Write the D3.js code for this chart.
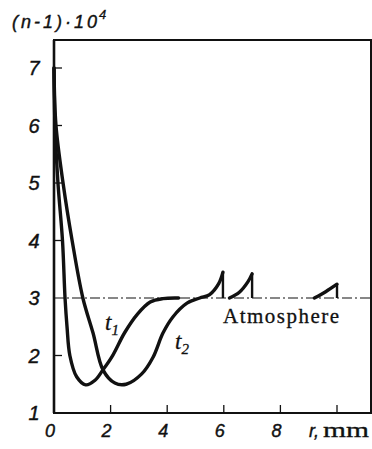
<!DOCTYPE html>
<html><head><meta charset="utf-8">
<script src="https://cdn.jsdelivr.net/npm/d3@7"></script>
<style>body{margin:0;background:#fff}svg{display:block}</style>
</head><body><div id="c"></div>
<script>
// ---- data ----
const yTicks = [1, 2, 3, 4, 5, 6, 7];
const xTicks = [0, 2, 4, 6, 8];
const xMinorTicks = [2, 4, 6, 8, 10];
const atmosphere = 3;
// curve t1 (r in mm, (n-1)*10^4)
const t1R = [0, 0.035, 0.14, 0.3, 0.39, 0.46, 0.56, 0.8, 1.12, 1.45, 1.73, 2.05, 2.5, 2.95, 3.4, 3.85, 4.4];
const t1V = [7.0, 6.0, 5.0, 4.0, 3.0, 2.5, 2.0, 1.63, 1.49, 1.57, 1.75, 1.98, 2.4, 2.72, 2.93, 2.99, 3.0];
// curve t2 main branch up to first peak
const t2R = [0, 0.07, 0.32, 0.64, 1.02, 1.38, 1.73, 2.15, 2.55, 3.1, 3.5, 3.85, 4.2, 4.7, 5.15, 5.5, 5.82, 5.97];
const t2V = [7.0, 6.0, 5.0, 4.0, 3.0, 2.39, 1.75, 1.52, 1.5, 1.68, 1.97, 2.39, 2.67, 2.91, 3.0, 3.06, 3.25, 3.45];
// later sawtooth pulses of t2
const saw2R = [6.2, 6.55, 6.85, 7.0];
const saw2V = [3.0, 3.1, 3.28, 3.42];
const saw3R = [9.2, 9.6, 10.0];
const saw3V = [3.0, 3.11, 3.24];
// vertical drops back to the atmosphere level
const dropR = [5.97, 7.0, 10.0];
const dropTop = [3.45, 3.42, 3.24];

// ---- chart ----
const W = 372, H = 449;
const svg = d3.select('#c').append('svg').attr('width', W).attr('height', H);
const x = d3.scaleLinear().domain([0, 10]).range([54, 337]);
const y = d3.scaleLinear().domain([1, 7]).range([413, 68]);
const x0 = 54, x1 = 371, yTop = 40, yBot = 413;

const ink = '#111';
// frame
svg.append('path').attr('d', `M${x0},${yBot}V${yTop}H${x1}V${yBot}Z`)
  .attr('fill', 'none').attr('stroke', ink).attr('stroke-width', 2);
svg.append('line').attr('x1', x0).attr('x2', x0).attr('y1', yTop).attr('y2', yBot)
  .attr('stroke', ink).attr('stroke-width', 2.6);

// left ticks (inward)
svg.selectAll('.yt').data(yTicks.filter(d => d !== 1 && d !== 3)).enter().append('line')
  .attr('x1', x0).attr('x2', x0 + 8).attr('y1', d => y(d)).attr('y2', d => y(d))
  .attr('stroke', ink).attr('stroke-width', 1.3);
// bottom ticks (inward)
svg.selectAll('.xt').data(xMinorTicks).enter().append('line')
  .attr('x1', d => x(d)).attr('x2', d => x(d)).attr('y1', yBot).attr('y2', yBot - 8)
  .attr('stroke', ink).attr('stroke-width', 1.3);

const sans = 'Liberation Sans, Arial, sans-serif';
const serif = 'Liberation Serif, Times New Roman, serif';
// y labels
svg.selectAll('.yl').data(yTicks).enter().append('text')
  .attr('x', 34).attr('y', d => y(d)).attr('dy', '0.36em')
  .attr('text-anchor', 'middle')
  .attr('font-family', sans).attr('font-style', 'italic')
  .attr('font-size', 20).attr('fill', ink).attr('stroke', ink).attr('stroke-width', 0.4).text(d => d);
// x labels
svg.selectAll('.xl').data(xTicks).enter().append('text')
  .attr('x', d => x(d) - 4).attr('y', 437)
  .attr('text-anchor', 'middle')
  .attr('font-family', sans).attr('font-style', 'italic')
  .attr('font-size', 18).attr('fill', ink).attr('stroke', ink).attr('stroke-width', 0.4).text(d => d);
// axis title x
svg.append('text').attr('x', 309).attr('y', 437)
  .attr('font-family', sans).attr('font-style', 'italic')
  .attr('font-size', 18).attr('fill', ink).attr('stroke', ink).attr('stroke-width', 0.4).text('r,');
svg.append('text').attr('x', 323).attr('y', 437)
  .attr('font-family', serif)
  .attr('font-size', 21).attr('fill', ink).attr('stroke', ink).attr('stroke-width', 0.3)
  .attr('textLength', 46).attr('lengthAdjust', 'spacingAndGlyphs').text('mm');
// axis title y
svg.append('text').attr('x', 12).attr('y', 28)
  .attr('font-family', sans).attr('font-style', 'italic')
  .attr('font-size', 18).attr('fill', ink).attr('stroke', ink).attr('stroke-width', 0.4)
  .attr('textLength', 85).attr('lengthAdjust', 'spacing').text('(n-1)·10');
svg.append('text').attr('x', 99).attr('y', 19)
  .attr('font-family', sans).attr('font-style', 'italic')
  .attr('font-size', 13).attr('fill', ink).attr('stroke', ink).attr('stroke-width', 0.3).text('4');

// atmosphere dash-dot line
svg.append('line').attr('x1', x0).attr('x2', x1).attr('y1', y(atmosphere)).attr('y2', y(atmosphere))
  .attr('stroke', ink).attr('stroke-width', 1.2).attr('stroke-dasharray', '10,3,2,3');
svg.append('text').attr('x', 223).attr('y', 323)
  .attr('font-family', serif)
  .attr('font-size', 21).attr('fill', ink).attr('stroke', ink).attr('stroke-width', 0.3)
  .attr('textLength', 116).attr('lengthAdjust', 'spacing').text('Atmosphere');

// curves
const line = d3.line().x(d => x(d[0])).y(d => y(d[1])).curve(d3.curveCatmullRom.alpha(0.5));
const zip = (a, b) => a.map((v, i) => [v, b[i]]);
const curves = [zip(t1R, t1V), zip(t2R, t2V), zip(saw2R, saw2V), zip(saw3R, saw3V)];
svg.selectAll('.cv').data(curves).enter().append('path')
  .attr('d', line).attr('fill', 'none').attr('stroke', ink)
  .attr('stroke-width', 3.4).attr('stroke-linecap', 'round').attr('stroke-linejoin', 'round');
svg.selectAll('.dr').data(dropR).enter().append('line')
  .attr('x1', d => x(d)).attr('x2', d => x(d))
  .attr('y1', (d, i) => y(dropTop[i])).attr('y2', y(atmosphere))
  .attr('stroke', ink).attr('stroke-width', 2.4);

// curve labels
function tLabel(px, py, sub) {
  const t = svg.append('text').attr('x', px).attr('y', py)
    .attr('font-family', serif).attr('font-style', 'italic')
    .attr('font-size', 23).attr('fill', ink).attr('stroke', ink).attr('stroke-width', 0.3);
  t.append('tspan').text('t');
  t.append('tspan').attr('dy', 5).attr('font-size', 15).text(sub);
}
tLabel(105, 330, '1');
tLabel(175, 349, '2');
</script></body></html>
